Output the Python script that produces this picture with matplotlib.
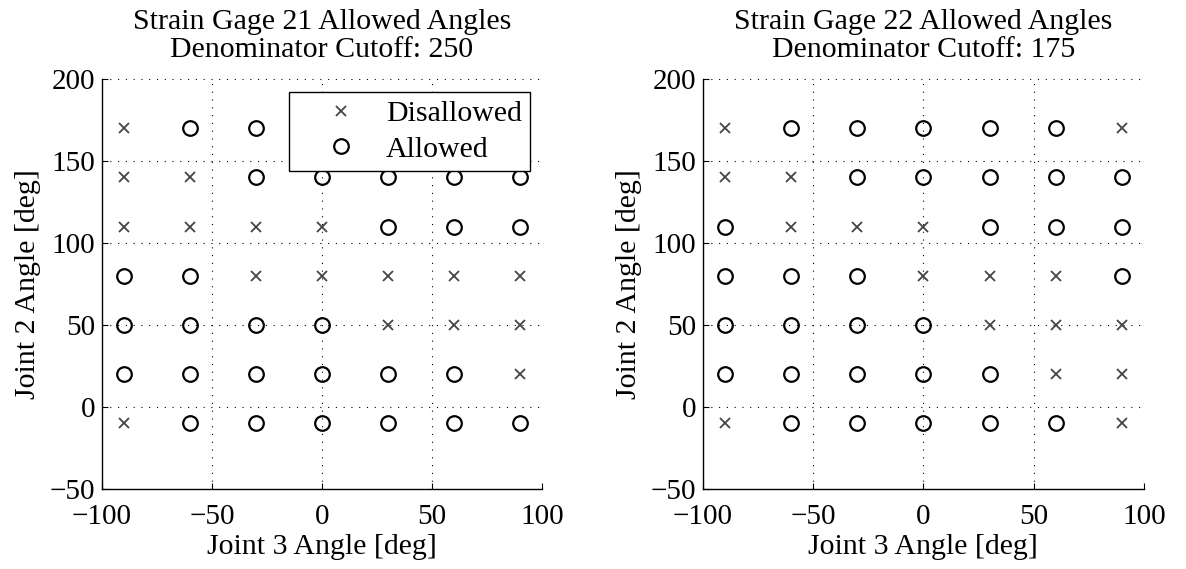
#plot allowed / disallowed joint angle combinations for the two strain gages
import matplotlib.pyplot as plt
import numpy as np

plt.rcParams["font.family"] = ["Liberation Serif", "DejaVu Serif"]

#grid of joint angles that were tested
joint3 = [-90, -60, -30, 0, 30, 60, 90]
joint2 = [170, 140, 110, 80, 50, 20, -10]

#1 = allowed, 0 = disallowed, rows follow joint2, columns follow joint3
gage21 = [[0, 1, 1, 1, 1, 1, 1],
          [0, 0, 1, 1, 1, 1, 1],
          [0, 0, 0, 0, 1, 1, 1],
          [1, 1, 0, 0, 0, 0, 0],
          [1, 1, 1, 1, 0, 0, 0],
          [1, 1, 1, 1, 1, 1, 0],
          [0, 1, 1, 1, 1, 1, 1]]

gage22 = [[0, 1, 1, 1, 1, 1, 0],
          [0, 0, 1, 1, 1, 1, 1],
          [1, 0, 0, 0, 1, 1, 1],
          [1, 1, 1, 0, 0, 0, 1],
          [1, 1, 1, 1, 0, 0, 0],
          [1, 1, 1, 1, 1, 0, 0],
          [0, 1, 1, 1, 1, 1, 0]]

gages = [21, 22]
cutoffs = [250, 175]
flags = [gage21, gage22]

fig = plt.figure(figsize=(11.86, 5.69), dpi=100)
axes = [fig.add_axes([0.0860, 0.1406, 0.3710, 0.7206]),
        fig.add_axes([0.5927, 0.1406, 0.3718, 0.7206])]

X, Y = np.meshgrid(joint3, joint2)

for ax, gage, cutoff, flag in zip(axes, gages, cutoffs, flags):
    ok = np.array(flag) == 1
    ax.plot(X[~ok], Y[~ok], "x", color="#444444", markersize=7.5,
            markeredgewidth=1.3, label="Disallowed", zorder=3)
    ax.plot(X[ok], Y[ok], "o", markerfacecolor="none", markeredgecolor="black",
            markersize=10.5, markeredgewidth=1.6, label="Allowed", zorder=3)

    ax.set_xlim(-100, 100)
    ax.set_ylim(-50, 200)
    ax.set_xticks([-100, -50, 0, 50, 100])
    ax.set_yticks([-50, 0, 50, 100, 150, 200])
    ax.set_xticklabels(["\u2212100", "\u221250", "0", "50", "100"])
    ax.set_yticklabels(["\u221250", "0", "50", "100", "150", "200"])
    ax.tick_params(direction="in", length=4, width=0.8, labelsize=21)
    ax.tick_params(axis="x", pad=11)
    ax.tick_params(axis="y", pad=5)
    ax.grid(True, color="black", linestyle=(0, (1, 6)), linewidth=0.8)
    ax.spines["top"].set_visible(False)
    ax.spines["right"].set_visible(False)
    for s in ["left", "bottom"]:
        ax.spines[s].set_linewidth(1.0)

    ax.set_title(f"Strain Gage {gage} Allowed Angles\nDenominator Cutoff: {cutoff}",
                 fontsize=21.5, linespacing=1.08, pad=16)
    ax.set_xlabel("Joint 3 Angle [deg]", fontsize=21.5, labelpad=3)
    ax.set_ylabel("Joint 2 Angle [deg]", fontsize=21.5, labelpad=6)

#legend only on the first panel, opaque box with square corners
leg = axes[0].legend(loc="upper right", bbox_to_anchor=(0.973, 0.968), fontsize=21.5,
                     fancybox=False, framealpha=1, edgecolor="black",
                     borderpad=0.27, handletextpad=0.05, labelspacing=0.3,
                     handlelength=2.94, borderaxespad=0)
leg.get_frame().set_linewidth(1.0)
leg.set_zorder(5)

plt.savefig("out.png", dpi=100)
plt.close()
